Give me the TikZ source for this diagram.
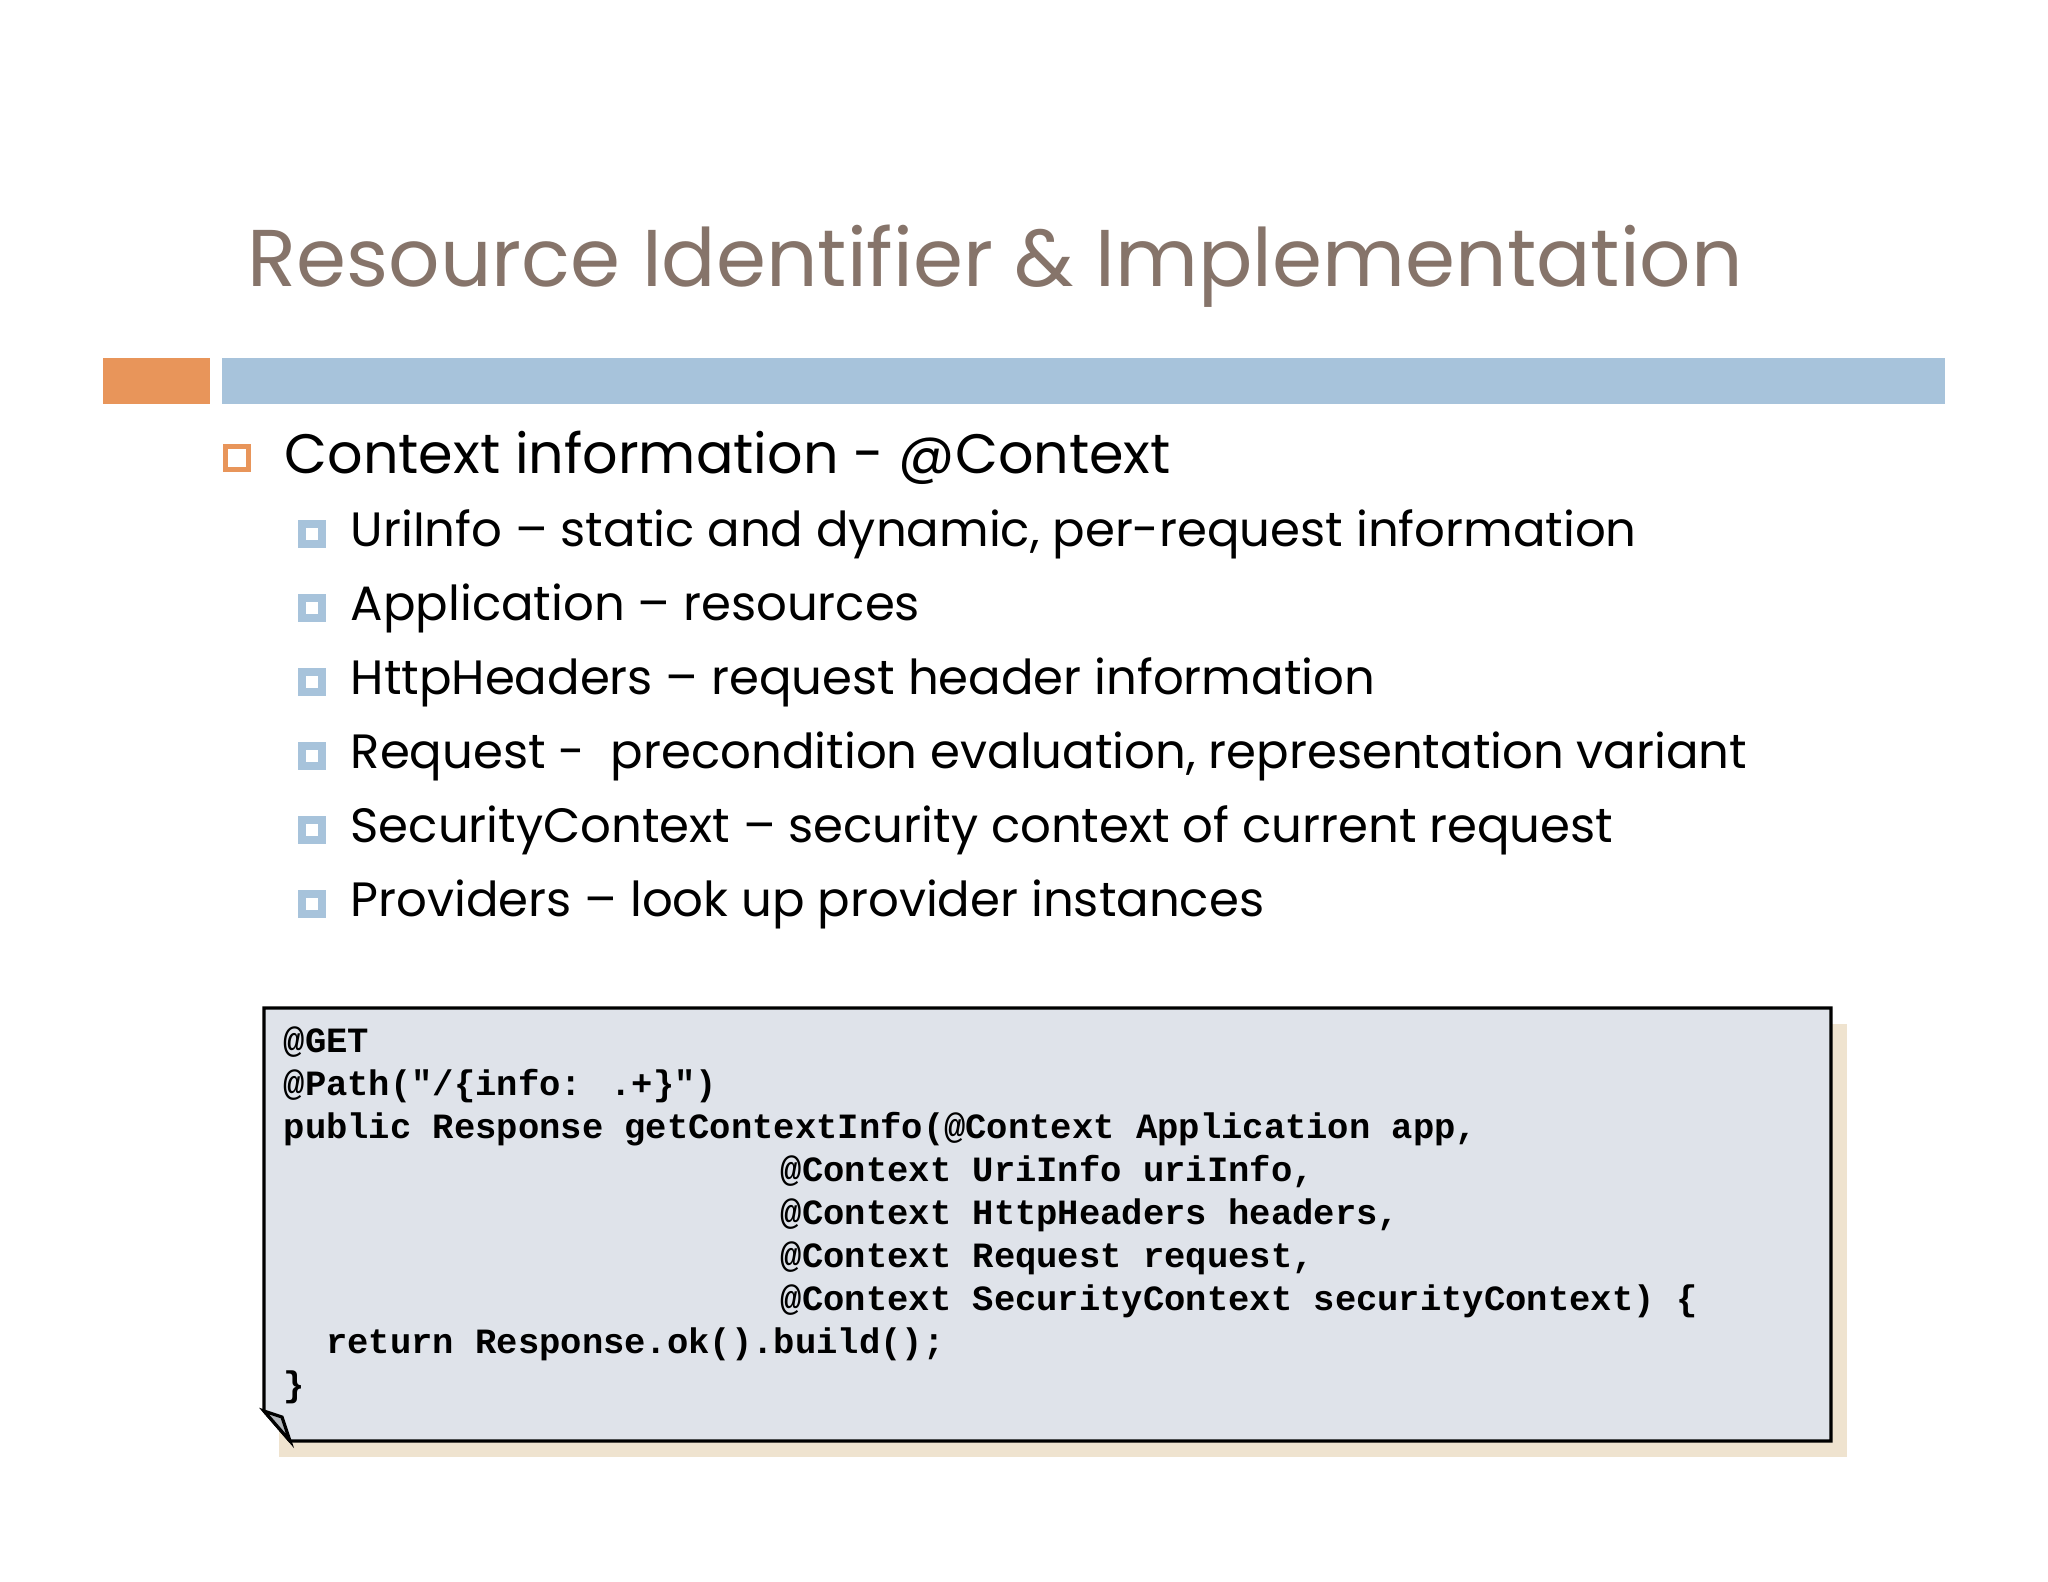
\documentclass[tikz,border=0pt]{standalone}
\usepackage{fontspec}
\setmainfont{Poppins}
\newfontfamily\codefont{Liberation Mono}
\definecolor{titlec}{RGB}{134,116,106}
\definecolor{orng}{RGB}{232,149,90}
\definecolor{blu}{RGB}{167,195,219}
\definecolor{codebg}{RGB}{223,227,234}
\definecolor{shad}{RGB}{239,227,207}
\tikzset{
  lvtwo/.style={anchor=base west,inner sep=0pt,font=\fontsize{13.7}{16}\selectfont},
  bsq/.style={draw=blu,fill=white,line width=0.075cm,minimum size=0.195cm,inner sep=0pt},
  code/.style={anchor=base west,inner sep=0pt,font=\codefont\bfseries\fontsize{10.1}{12}\selectfont}
}
\begin{document}
\begin{tikzpicture}[x=0.01cm,y=-0.01cm]
\useasboundingbox (0,0) rectangle (2048,1582);
\fill[white] (0,0) rectangle (2048,1582);
\node[anchor=base west,inner sep=0pt,text=titlec,font=\fontsize{22.9}{27}\selectfont] (title) at (247,287) {Resource Identifier \& Implementation};
\fill[orng] (103,358) rectangle (210,404);
\fill[blu] (222,358) rectangle (1945,404);
\node[draw=orng,line width=1.2pt,minimum size=0.23cm,inner sep=0pt] (b0) at (237,458) {};
\node[anchor=base west,inner sep=0pt,font=\fontsize{15.8}{19}\selectfont] (l0) at (284,473) {Context information - @Context};
\foreach \i/\t in {1/{UriInfo – static and dynamic, per-request information},
  2/{Application – resources},
  3/{HttpHeaders – request header information},
  4/{Request -\ \ precondition evaluation, representation variant},
  5/{SecurityContext – security context of current request},
  6/{Providers – look up provider instances}}{
  \node[bsq] (b\i) at (312,{534+74*(\i-1)}) {};
  \node[lvtwo] (l\i) at (350,{546+74*(\i-1)}) {\t};
}
\fill[shad] (279,1024) rectangle (1847,1457);
\fill[codebg,draw=black,line width=0.9pt] (264,1008) -- (1831,1008) -- (1831,1441) -- (290,1441) -- (264,1411) -- cycle;
\draw[line width=0.9pt,fill=codebg!80!black] (264,1411) -- (290,1441) -- (282,1417) -- cycle;
\foreach \i/\t in {0/{@GET},1/{@Path("/\{info: .+\}")},2/{public Response getContextInfo(@Context Application app,},
 3/{\hspace*{14.0em}@Context UriInfo uriInfo,},4/{\hspace*{14.0em}@Context HttpHeaders headers,},
 5/{\hspace*{14.0em}@Context Request request,},6/{\hspace*{14.0em}@Context SecurityContext securityContext) \{},
 7/{\hspace*{1.2em}return Response.ok().build();},8/{\}}}{
  \node[code] (c\i) at (283,{1052+43*\i}) {\t};
}
\end{tikzpicture}
\end{document}
